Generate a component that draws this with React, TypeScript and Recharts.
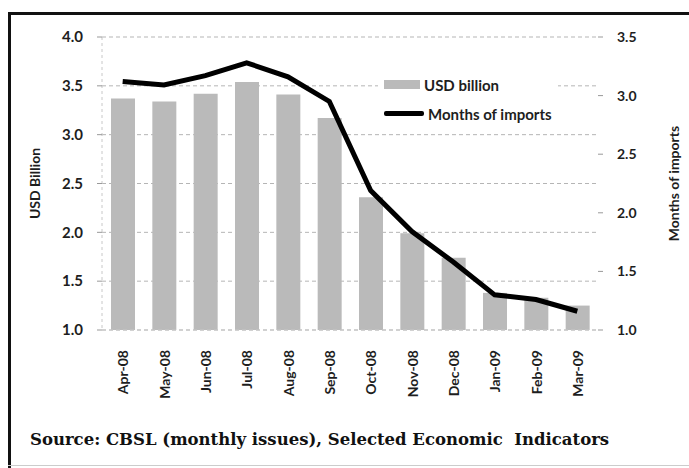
import {
  ComposedChart,
  Bar,
  Line,
  XAxis,
  YAxis,
  CartesianGrid,
  Legend,
} from "recharts";

const months = [
  "Apr-08", "May-08", "Jun-08", "Jul-08", "Aug-08", "Sep-08",
  "Oct-08", "Nov-08", "Dec-08", "Jan-09", "Feb-09", "Mar-09",
];
const usdBillion = [3.37, 3.34, 3.42, 3.54, 3.41, 3.17, 2.36, 1.99, 1.74, 1.38, 1.33, 1.25];
const monthsOfImports = [3.12, 3.09, 3.17, 3.28, 3.16, 2.95, 2.19, 1.84, 1.58, 1.3, 1.26, 1.16];
const leftTicks = [1.0, 1.5, 2.0, 2.5, 3.0, 3.5, 4.0];
const rightTicks = [1.0, 1.5, 2.0, 2.5, 3.0, 3.5];

const data = months.map((m, i) => ({
  month: m,
  usd: usdBillion[i],
  moi: monthsOfImports[i],
}));

const FONT = "Lato, 'Open Sans', sans-serif";
const INK = "#1e1e1e";
const BAR = "#bababa";

function MonthTick({ x, y, payload }: any) {
  return (
    <text
      x={x}
      y={y}
      transform={`rotate(-90, ${x}, ${y})`}
      textAnchor="end"
      dominantBaseline="central"
      fontFamily={FONT}
      fontWeight={700}
      fontSize={14}
      fill={INK}
    >
      {payload.value}
    </text>
  );
}

function AxisTitle({ viewBox, text, dx }: any) {
  const x = viewBox.x + dx;
  const y = viewBox.y + viewBox.height / 2;
  return (
    <text
      x={x}
      y={y}
      transform={`rotate(-90, ${x}, ${y})`}
      textAnchor="middle"
      dominantBaseline="central"
      fontFamily={FONT}
      fontWeight={700}
      fontSize={14}
      fill={INK}
    >
      {text}
    </text>
  );
}

function LegendBox() {
  const row = { display: "flex", alignItems: "center", height: 29 } as const;
  const label = { fontFamily: FONT, fontSize: 15, fontWeight: 700, color: INK, marginLeft: 4 };
  return (
    <div style={{ background: "#fff", padding: "0 6px" }}>
      <div style={row}>
        <div style={{ width: 36, height: 9, background: BAR }} />
        <span style={label}>USD billion</span>
      </div>
      <div style={row}>
        <div style={{ width: 40, height: 5, background: "#000", borderRadius: 2 }} />
        <span style={label}>Months of imports</span>
      </div>
    </div>
  );
}

export default function App() {
  return (
    <div
      style={{
        position: "fixed",
        left: 0,
        top: 0,
        width: 689,
        height: 468,
        background: "#fff",
        overflow: "hidden",
      }}
    >
      <div style={{ position: "absolute", left: 8, top: 12, width: 700, height: 3, background: "#111" }} />
      <div style={{ position: "absolute", left: 8, top: 12, width: 3, height: 460, background: "#111" }} />
      <div style={{ position: "absolute", left: 8, top: 465, width: 700, height: 1, background: "#ccc" }} />

      <ComposedChart
        width={689}
        height={468}
        data={data}
        margin={{ top: 37, right: 20, bottom: 0, left: 20 }}
        style={{ position: "absolute", left: 0, top: 0 }}
      >
        <CartesianGrid
          yAxisId="left"
          vertical={false}
          stroke="#b5b5b5"
          strokeDasharray="4 3"
        />
        <XAxis
          dataKey="month"
          height={138}
          tick={<MonthTick />}
          tickLine={false}
          tickMargin={14}
          axisLine={{ stroke: "#c8c8c8", strokeDasharray: "4 3" }}
          interval={0}
        />
        <YAxis
          yAxisId="left"
          width={82}
          domain={[1, 4]}
          ticks={leftTicks}
          allowDataOverflow
          tickFormatter={(v: number) => v.toFixed(1)}
          tick={{ fontFamily: FONT, fontWeight: 700, fontSize: 15, fill: INK }}
          tickSize={5}
          tickMargin={14}
          tickLine={{ stroke: "#999" }}
          axisLine={{ stroke: "#c8c8c8", strokeDasharray: "3 3" }}
          label={{ content: (p: any) => <AxisTitle {...p} text="USD Billion" dx={14} /> }}
        />
        <YAxis
          yAxisId="right"
          orientation="right"
          width={71}
          domain={[1, 3.5]}
          ticks={rightTicks}
          allowDataOverflow
          tickFormatter={(v: number) => v.toFixed(1)}
          tick={{ fontFamily: FONT, fontWeight: 700, fontSize: 14, fill: INK }}
          tickSize={5}
          tickMargin={14}
          tickLine={{ stroke: "#999" }}
          axisLine={false}
          label={{ content: (p: any) => <AxisTitle {...p} text="Months of imports" dx={75} /> }}
        />
        <Bar
          yAxisId="left"
          dataKey="usd"
          name="USD billion"
          fill={BAR}
          barSize={24}
          isAnimationActive={false}
        />
        <Line
          yAxisId="right"
          dataKey="moi"
          name="Months of imports"
          type="linear"
          stroke="#000"
          strokeWidth={5}
          dot={false}
          isAnimationActive={false}
        />
        <Legend
          content={<LegendBox />}
          layout="horizontal"
          verticalAlign="middle"
          align="center"
          wrapperStyle={{ left: 378, top: 70, width: "auto", bottom: "auto" }}
        />
      </ComposedChart>

      <div
        style={{
          position: "absolute",
          left: 30,
          top: 430,
          fontFamily: "'DejaVu Serif', serif",
          fontWeight: 700,
          fontSize: 16.5,
          color: "#111",
          whiteSpace: "pre",
        }}
      >
        {"Source: CBSL (monthly issues), Selected Economic  Indicators"}
      </div>
    </div>
  );
}
